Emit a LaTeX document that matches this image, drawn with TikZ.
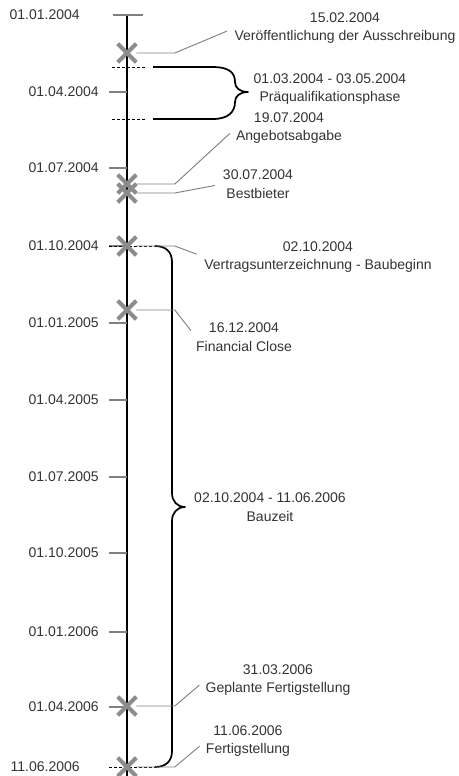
\documentclass[tikz,border=0pt]{standalone}
\usepackage{fontspec}
\setmainfont{Liberation Sans}
\usetikzlibrary{shapes.misc}
\begin{document}
\begin{tikzpicture}[x=0.75pt, y=-0.75pt,
  every node/.style={font=\fontsize{10.5}{13.9}\selectfont, text=black!80, inner sep=0pt},
  tick/.style={gray, line width=1.5pt},
  kreuz/.style={draw=gray!90, cross out, line width=3pt, minimum size=11pt},
  hinweis/.style={gray, line width=0.7pt, shorten >=6pt},
  klammer/.style={line width=1.3pt, line join=round},
  grenze/.style={line width=0.7pt, dash pattern=on 2.25pt off 1.5pt},
  ereignis/.style={align=center}]
\useasboundingbox (0,0) rectangle (459,776);
% Zeitachse
\draw[line width=2.2pt] (127,15) -- (127,776);
\draw[tick] (113,15) -- (143,15);
\node[anchor=east] (d0) at (80,15) {01.01.2004};
\foreach \y/\d [count=\i] in {92/01.04.2004, 168/01.07.2004, 246/01.10.2004, 323/01.01.2005,
    400/01.04.2005, 477/01.07.2005, 553/01.10.2005, 632/01.01.2006, 707/01.04.2006}{
  \draw[tick] (109,\y) -- (127,\y);
  \node[anchor=east] (d\i) at (99,\y) {\d};
}
\node[anchor=east] (d10) at (80,767) {11.06.2006};
% Phasen
\draw[grenze] (112,67) -- (145,67);
\draw[grenze] (112,119) -- (145,119);
\draw[klammer] (153,67) -- (213,67) .. controls (228,67) and (235,72) .. (235,82)
  .. controls (235,88) and (240,92) .. (248,92)
  .. controls (240,92) and (235,96) .. (235,102)
  .. controls (235,112) and (228,119) .. (213,119) -- (153,119);
\draw[grenze] (109,246) -- (155,246);
\draw[grenze] (109,767) -- (155,767);
\draw[klammer] (155,246) .. controls (166,246) and (172,252) .. (172,262) -- (172,493)
  .. controls (172,501) and (177,507) .. (185,507)
  .. controls (177,507) and (172,513) .. (172,521) -- (172,751)
  .. controls (172,761) and (166,767) .. (155,767);
\node[ereignis] (p1) at (330,89) {01.03.2004 - 03.05.2004\\Präqualifikationsphase};
\node[ereignis] (p2) at (270,507) {02.10.2004 - 11.06.2006\\Bauzeit};
% Ereignisse
\node[kreuz] (m1) at (127,53) {};
\node[kreuz] (m2) at (127,184) {};
\node[kreuz] (m3) at (127,193) {};
\node[kreuz] (m4) at (127,246) {};
\node[kreuz] (m5) at (127,310) {};
\node[kreuz] (m6) at (127,706) {};
\node[kreuz] (m7) at (127,767) {};
\node[ereignis] (e1) at (345,28) {15.02.2004\\Veröffentlichung der Ausschreibung};
\node[ereignis] (e2) at (289,128) {19.07.2004\\Angebotsabgabe};
\node[ereignis] (e3) at (258,184) {30.07.2004\\Bestbieter};
\node[ereignis] (e4) at (318,257) {02.10.2004\\Vertragsunterzeichnung - Baubeginn};
\node[ereignis] (e5) at (244,337) {16.12.2004\\Financial Close};
\node[ereignis] (e6) at (278,680) {31.03.2006\\Geplante Fertigstellung};
\node[ereignis] (e7) at (248,741) {11.06.2006\\Fertigstellung};
\foreach \i in {1,...,7}
  \draw[hinweis] (m\i.east) -- ++(38.5,0) -- (e\i.west);
\end{tikzpicture}
\end{document}
